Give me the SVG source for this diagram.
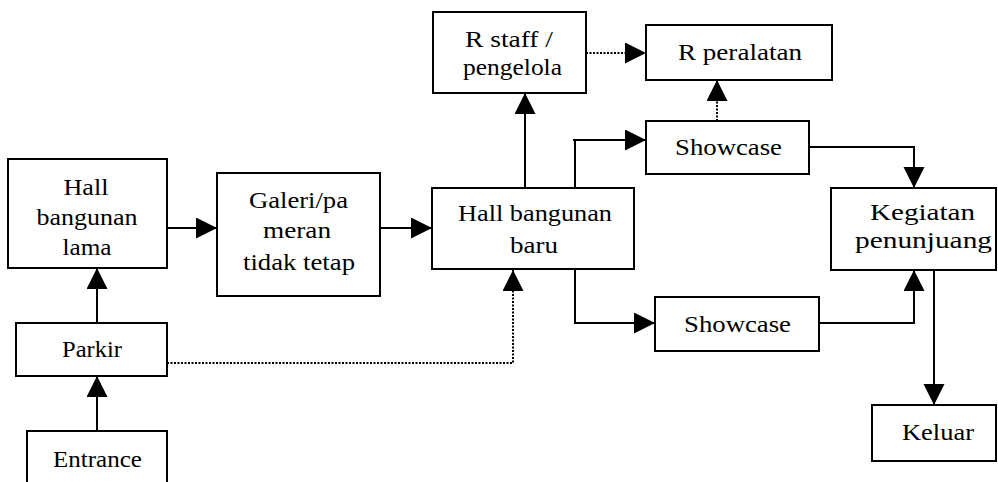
<svg xmlns="http://www.w3.org/2000/svg" width="998" height="482" viewBox="0 0 998 482">
<style>
.box{fill:#fff;stroke:#000;stroke-width:2}
.c{fill:none;stroke:#000;stroke-width:2}
.d{fill:none;stroke:#000;stroke-width:2;stroke-dasharray:2 1.5}
</style>
<defs>
<marker id="ah" markerUnits="userSpaceOnUse" markerWidth="22" markerHeight="22" refX="21" refY="10.5" orient="auto">
<path d="M0,0 L21,10.5 L0,21 z" fill="#000"/>
</marker>
</defs>
<rect width="998" height="482" fill="#fff"/>
<g id="connectors">
<path class="c" d="M97,323 V268" marker-end="url(#ah)"/>
<path class="c" d="M97,431 V376" marker-end="url(#ah)"/>
<path class="c" d="M167,228 H217" marker-end="url(#ah)"/>
<path class="c" d="M380,228 H432" marker-end="url(#ah)"/>
<path class="c" d="M525,188 V93" marker-end="url(#ah)"/>
<path class="d" d="M586,53 H646" marker-end="url(#ah)"/>
<path class="c" d="M575,188 V140 M573,140 H646" marker-end="url(#ah)"/>
<path class="d" d="M717,121 V80" marker-end="url(#ah)"/>
<path class="c" d="M575,269 V323 H655" marker-end="url(#ah)"/>
<path class="c" d="M809,147 H914 V188" marker-end="url(#ah)"/>
<path class="c" d="M819,323 H914 V270" marker-end="url(#ah)"/>
<path class="c" d="M934,270 V405" marker-end="url(#ah)"/>
<path class="d" d="M167,363 H513 V270" marker-end="url(#ah)"/>
</g>
<g id="hall-lama">
<rect class="box" x="8" y="159" width="159" height="109"/>
<text font-family="Liberation Serif" font-size="23" text-anchor="middle" x="86" y="195" textLength="45" lengthAdjust="spacingAndGlyphs">Hall</text>
<text font-family="Liberation Serif" font-size="23" text-anchor="middle" x="87" y="225" textLength="101" lengthAdjust="spacingAndGlyphs">bangunan</text>
<text font-family="Liberation Serif" font-size="23" text-anchor="middle" x="87" y="255" textLength="49" lengthAdjust="spacingAndGlyphs">lama</text>
</g>
<g id="parkir">
<rect class="box" x="16" y="323" width="151" height="53"/>
<text font-family="Liberation Serif" font-size="23" text-anchor="middle" x="92" y="357" textLength="60" lengthAdjust="spacingAndGlyphs">Parkir</text>
</g>
<g id="entrance">
<rect class="box" x="27" y="431" width="140" height="60"/>
<text font-family="Liberation Serif" font-size="23" text-anchor="middle" x="97.5" y="467" textLength="89" lengthAdjust="spacingAndGlyphs">Entrance</text>
</g>
<g id="galeri">
<rect class="box" x="217" y="173" width="163" height="123"/>
<text font-family="Liberation Serif" font-size="23" text-anchor="middle" x="298.5" y="208" textLength="99" lengthAdjust="spacingAndGlyphs">Galeri/pa</text>
<text font-family="Liberation Serif" font-size="23" text-anchor="middle" x="297" y="238" textLength="68" lengthAdjust="spacingAndGlyphs">meran</text>
<text font-family="Liberation Serif" font-size="23" text-anchor="middle" x="299" y="270" textLength="112" lengthAdjust="spacingAndGlyphs">tidak tetap</text>
</g>
<g id="hall-baru">
<rect class="box" x="432" y="188" width="202" height="81"/>
<text font-family="Liberation Serif" font-size="23" text-anchor="middle" x="535" y="221" textLength="154" lengthAdjust="spacingAndGlyphs">Hall bangunan</text>
<text font-family="Liberation Serif" font-size="23" text-anchor="middle" x="534" y="253" textLength="48" lengthAdjust="spacingAndGlyphs">baru</text>
</g>
<g id="r-staff">
<rect class="box" x="433" y="12" width="153" height="81"/>
<text font-family="Liberation Serif" font-size="23" text-anchor="middle" x="509" y="47" textLength="88" lengthAdjust="spacingAndGlyphs">R staff /</text>
<text font-family="Liberation Serif" font-size="23" text-anchor="middle" x="512.5" y="75" textLength="99" lengthAdjust="spacingAndGlyphs">pengelola</text>
</g>
<g id="r-peralatan">
<rect class="box" x="646" y="25" width="186" height="55"/>
<text font-family="Liberation Serif" font-size="23" text-anchor="middle" x="740" y="60" textLength="124" lengthAdjust="spacingAndGlyphs">R peralatan</text>
</g>
<g id="showcase-1">
<rect class="box" x="646" y="121" width="163" height="53"/>
<text font-family="Liberation Serif" font-size="23" text-anchor="middle" x="728.5" y="155" textLength="107" lengthAdjust="spacingAndGlyphs">Showcase</text>
</g>
<g id="showcase-2">
<rect class="box" x="655" y="297" width="164" height="54"/>
<text font-family="Liberation Serif" font-size="23" text-anchor="middle" x="737.5" y="332" textLength="107" lengthAdjust="spacingAndGlyphs">Showcase</text>
</g>
<g id="kegiatan">
<rect class="box" x="831" y="188" width="165" height="82"/>
<text font-family="Liberation Serif" font-size="23" text-anchor="middle" x="922.5" y="220" textLength="105" lengthAdjust="spacingAndGlyphs">Kegiatan</text>
<text font-family="Liberation Serif" font-size="23" text-anchor="middle" x="923.5" y="248" textLength="137" lengthAdjust="spacingAndGlyphs">penunjuang</text>
</g>
<g id="keluar">
<rect class="box" x="872" y="405" width="124" height="56"/>
<text font-family="Liberation Serif" font-size="23" text-anchor="middle" x="938" y="440" textLength="72" lengthAdjust="spacingAndGlyphs">Keluar</text>
</g>
</svg>
